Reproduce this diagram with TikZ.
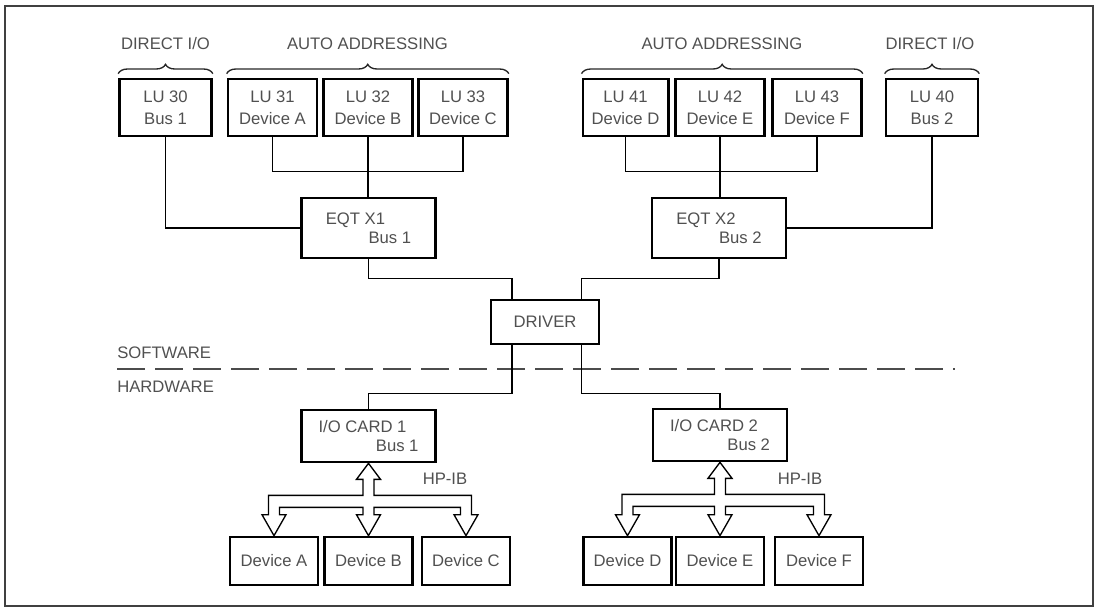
\documentclass[tikz,border=0pt]{standalone}
\usepackage{fontspec}
\setmainfont{Liberation Sans}
\usetikzlibrary{calc,decorations.pathreplacing}
\definecolor{inkgray}{RGB}{80,80,80}

\begin{document}
\begin{tikzpicture}[x=0.75pt,y=-0.75pt,
    box/.style={draw=black,line width=2pt,minimum width=66.75pt,minimum height=42.75pt,inner sep=0pt,text=inkgray,align=center,font=\fontsize{12.5}{16.5}\selectfont},
    wide/.style={box,minimum width=100.5pt,font=\fontsize{12.5}{14.5}\selectfont},
    devbox/.style={box,minimum width=66pt,minimum height=36pt},
    wire/.style={line width=1.2pt},
    bus/.style={line width=1pt,fill=white,line join=miter},
    brace/.style={decorate,decoration={brace,amplitude=7pt},line width=1pt,black!85},
    lbl/.style={text=inkgray,font=\fontsize{12.5}{15}\selectfont,inner sep=0pt},
    divider/.style={line width=0.9pt,black!70,dash pattern=on 21pt off 7.5pt}]
    \useasboundingbox (0,0) rectangle (1100,608);

    % frame
    \draw [line width=1.2pt,black!75] (5,6) rectangle (1093,606);

    % logical units
    \node (lu30) [box,minimum width=69pt] at (165.5,107.5) {LU 30\\Bus 1};
    \node (lu31) [box] at (272.5,107.5) {LU 31\\Device A};
    \node (lu32) [box] at (368,107.5) {LU 32\\Device B};
    \node (lu33) [box] at (463,107.5) {LU 33\\Device C};
    \node (lu41) [box,minimum width=64pt] at (625.5,107.5) {LU 41\\Device D};
    \node (lu42) [box] at (720,107.5) {LU 42\\Device E};
    \node (lu43) [box] at (817,107.5) {LU 43\\Device F};
    \node (lu40) [box,minimum width=69pt] at (932,107.5) {LU 40\\Bus 2};

    % group labels
    \draw [brace] ($(lu30.north west)+(0,-4)$) -- ($(lu30.north east)+(0,-4)$);
    \draw [brace] ($(lu31.north west)+(0,-4)$) -- ($(lu33.north east)+(0,-4)$);
    \draw [brace] ($(lu41.north west)+(0,-4)$) -- ($(lu43.north east)+(0,-4)$);
    \draw [brace] ($(lu40.north west)+(0,-4)$) -- ($(lu40.north east)+(0,-4)$);
    \node (dio1) [lbl] at (165.5,44) {DIRECT I/O};
    \node (auto1) [lbl] at (367.5,44) {AUTO ADDRESSING};
    \node (auto2) [lbl] at (722,44) {AUTO ADDRESSING};
    \node (dio2) [lbl] at (930,44) {DIRECT I/O};

    % equipment tables and driver
    \node (eqt1) [wide,minimum height=45pt] at (368.5,228) {\begin{minipage}{64pt}EQT X1\\\hspace*{\fill}Bus 1\end{minipage}};
    \node (eqt2) [wide,minimum height=45pt] at (719,228) {\begin{minipage}{64pt}EQT X2\\\hspace*{\fill}Bus 2\end{minipage}};
    \node (driver) [box,minimum width=81pt,minimum height=33pt] at (545,322) {DRIVER};

    % software / hardware
    \node (sw) [lbl,anchor=west] at (117,353) {SOFTWARE};
    \node (hw) [lbl,anchor=west] at (117,387) {HARDWARE};
    \draw [divider] (117,369) -- (955,369);

    % interface cards and devices
    \node (card1) [wide,minimum height=39pt] at (368.5,436) {\begin{minipage}{75pt}I/O CARD 1\\\hspace*{\fill}Bus 1\end{minipage}};
    \node (card2) [wide,minimum height=39pt] at (720,435) {\begin{minipage}{75pt}I/O CARD 2\\\hspace*{\fill}Bus 2\end{minipage}};
    \node (devA) [devbox] at (274,561) {Device A};
    \node (devB) [devbox] at (368.5,561) {Device B};
    \node (devC) [devbox] at (466,561) {Device C};
    \node (devD) [devbox] at (627.5,561) {Device D};
    \node (devE) [devbox] at (720,561) {Device E};
    \node (devF) [devbox] at (819,561) {Device F};
    \node (hpib1) [lbl] at (445,479) {HP-IB};
    \node (hpib2) [lbl] at (800,479) {HP-IB};

    % connections
    \draw [wire] (lu31.south) -- ++(0,34) -| (lu33.south);
    \draw [wire] (lu32.south) -- (lu32.south |- eqt1.north);
    \draw [wire] (lu30.south) |- (eqt1.west);
    \draw [wire] (lu41.south) -- ++(0,34) -| (lu43.south);
    \draw [wire] (lu42.south) -- (lu42.south |- eqt2.north);
    \draw [wire] (lu40.south) |- (eqt2.east);
    \draw [wire] (eqt1.south) -- ++(0,19) -| ($(driver.north west)!0.2!(driver.north east)$);
    \draw [wire] (eqt2.south) -- ++(0,19) -| ($(driver.north west)!0.83!(driver.north east)$);
    \draw [wire] ($(driver.south west)!0.2!(driver.south east)$) -- ++(0,48) -| (card1.north);
    \draw [wire] ($(driver.south west)!0.83!(driver.south east)$) -- ++(0,48) -| (card2.north);

    % HP-IB buses
    \foreach \c/\l/\m/\r in {card1/devA/devB/devC,card2/devD/devE/devF}
    \draw [bus] (\c.south) -- ++(12,16) -- ++(-6.5,0) -- ++(0,16)
        -- ($(\r.north |- \c.south)+(5.5,32)$) -- ($(\r.north)+(5.5,-21)$) -- ++(6.5,0)
        -- (\r.north) -- ++(-12,-21) -- ++(6.5,0)
        -- ($(\r.north |- \c.south)+(-5.5,44)$) -- ($(\c.south)+(5.5,44)$)
        -- ($(\c.south |- \m.north)+(5.5,-21)$) -- ++(6.5,0)
        -- (\c.south |- \m.north) -- ++(-12,-21) -- ++(6.5,0)
        -- ($(\c.south)+(-5.5,44)$) -- ($(\l.north |- \c.south)+(5.5,44)$)
        -- ($(\l.north)+(5.5,-21)$) -- ++(6.5,0)
        -- (\l.north) -- ++(-12,-21) -- ++(6.5,0)
        -- ($(\l.north |- \c.south)+(-5.5,32)$) -- ($(\c.south)+(-5.5,32)$)
        -- ++(0,-16) -- ++(-6.5,0) -- cycle;

\end{tikzpicture}
\end{document}
